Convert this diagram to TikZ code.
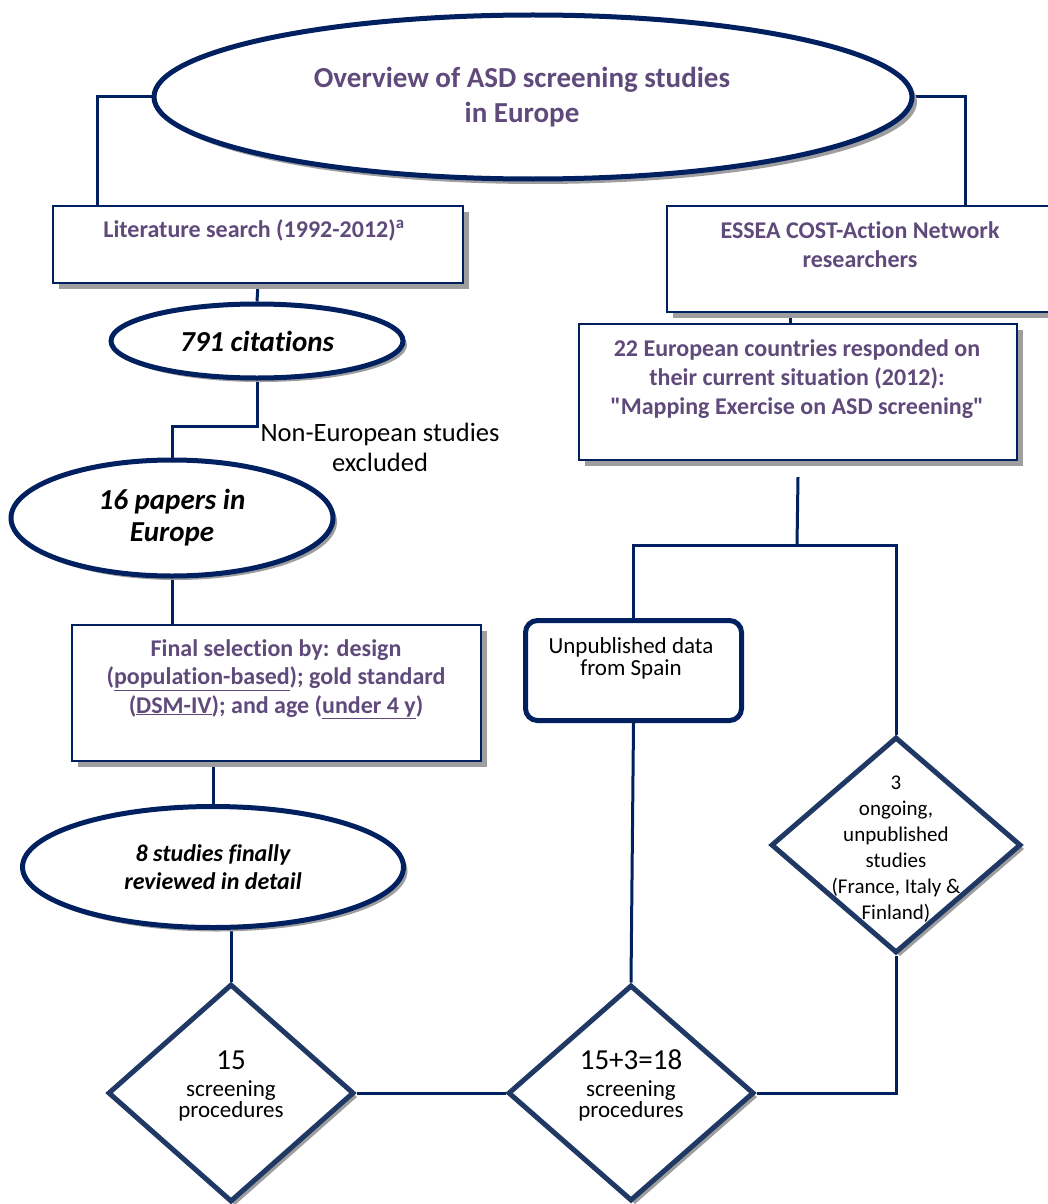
\documentclass[tikz,border=0pt]{standalone}
\usepackage{fontspec}
\setmainfont[Ligatures={TeXOff,NoCommon}]{Carlito}
\usetikzlibrary{shapes.geometric,shadows,backgrounds}
\definecolor{navy}{RGB}{0,32,96}
\definecolor{dnavy}{RGB}{31,56,100}
\definecolor{purp}{RGB}{96,74,123}
\definecolor{shad}{RGB}{158,158,158}
\begin{document}
\begin{tikzpicture}[x=1pt,y=-1pt,
  conn/.style={draw=navy,line width=3pt},
  bx/.style={rectangle,draw=navy,line width=2pt,fill=white,inner sep=0pt,anchor=north west,
    drop shadow={shadow xshift=6pt,shadow yshift=-6pt,fill=shad,opacity=1}},
  ell/.style={ellipse,draw=navy,line width=5pt,fill=white,inner sep=0pt,align=center,
    drop shadow={shadow xshift=4pt,shadow yshift=-4pt,fill=shad,opacity=1}},
  dia/.style={diamond,draw=dnavy,line width=5pt,fill=white,inner sep=0pt,
    drop shadow={shadow xshift=4pt,shadow yshift=-4pt,fill=shad,opacity=1}},
  ptxt/.style={text=purp,align=center,inner sep=0pt},
  btxt/.style={text=black,align=center,inner sep=0pt}]
\useasboundingbox (0,0) rectangle (1048,1204);

% ellipses
\node[ell,minimum width=758,minimum height=164,
  drop shadow={shadow xshift=5pt,shadow yshift=-5pt,fill=shad,opacity=1}] (top) at (533,97) {};
\node[ptxt,font=\fontsize{29}{35}\selectfont\bfseries] (topT) at (522,97)
  {Overview of ASD screening studies\\in Europe};
\node[ell,minimum width=292,minimum height=74,
  font=\fontsize{29}{32}\selectfont\bfseries\itshape] (c791) at (257,341) {791 citations};
\node[ell,minimum width=322,minimum height=116,
  font=\fontsize{29}{32}\selectfont\bfseries\itshape] (p16) at (172,518) {16 papers in\\Europe};
\node[ell,minimum width=381,minimum height=121,
  font=\fontsize{24}{28}\selectfont\bfseries\itshape] (s8) at (213,867) {8 studies finally\\reviewed in detail};

% boxes
\node[bx,minimum width=410,minimum height=77] (lit) at (52,205) {};
\node[ptxt,font=\fontsize{24}{29}\selectfont\bfseries] (litT) at (254,230)
  {Literature search (1992-2012)\textsuperscript{a}};
\node[bx,minimum width=400,minimum height=106] (essea) at (666,205) {};
\node[ptxt,font=\fontsize{24}{29}\selectfont\bfseries] (esseaT) at (860,245)
  {ESSEA COST-Action Network\\researchers};
\node[bx,minimum width=438,minimum height=136] (c22) at (578,323) {};
\node[ptxt,font=\fontsize{24}{29}\selectfont\bfseries] (c22T) at (797,379)
  {22 European countries responded on\\their current situation (2012):\\"Mapping Exercise on ASD screening"};
\node[bx,minimum width=409,minimum height=136] (fin) at (71,624) {};
\node[ptxt,font=\fontsize{24}{28.5}\selectfont\bfseries] (finT) at (276,679)
  {Final selection by: design\\(\underline{population-based}); gold standard\\(\underline{DSM-IV}); and age (\underline{under 4 y})};
\node[rectangle,rounded corners=12pt,draw=navy,line width=5pt,fill=white,inner sep=0pt,
  anchor=north west,minimum width=216,minimum height=100] (spain) at (523,618) {};
\node[btxt,font=\fontsize{23}{22}\selectfont] (spainT) at (631,658) {Unpublished data\\from Spain};

% diamonds
\node[dia,minimum width=246,minimum height=218] (d1) at (231,1093) {};
\node[dia,minimum width=246,minimum height=216] (d2) at (631,1093) {};
\node[dia,minimum width=250,minimum height=216] (d3) at (896,845) {};
\node[btxt,font=\fontsize{29}{29}\selectfont] (d1N) at (231,1060) {15};
\node[btxt,font=\fontsize{23}{21}\selectfont] (d1T) at (231,1101) {screening\\procedures};
\node[btxt,font=\fontsize{29}{29}\selectfont] (d2N) at (631,1060) {15+3=18};
\node[btxt,font=\fontsize{23}{21}\selectfont] (d2T) at (631,1101) {screening\\procedures};
\node[btxt,font=\fontsize{21}{26}\selectfont] (d3T) at (896,849)
  {3\\ongoing,\\unpublished\\studies\\(France, Italy \&\\Finland)};

% label
\node[btxt,font=\fontsize{26.5}{30}\selectfont] (nonEu) at (380,447) {Non-European studies\\excluded};

\coordinate (j) at (797,545);

\begin{scope}[on background layer]
\draw[conn] (top.west) -| ([xshift=45pt]lit.north west);
\draw[conn] (top.east) -| ([xshift=299pt]essea.north west);
\draw[conn] (lit.south) -- (c791.north);
\draw[conn] (c791.south) -- ++(0,46) -| (p16.north);
\draw[conn] (p16.south) -- (p16.south |- fin.north);
\draw[conn] (s8.north) -- (s8.north |- fin.south);
\draw[conn] (d1.north) -- (d1.north |- s8.south);
\draw[conn] (d1.east) -- (d2.west);
\draw[conn] (d2.east) -| (d3.south);
\draw[conn] (spain.south) -- (d2.north);
\draw[conn] ([xshift=-8pt]c22.north) -- ([xshift=-8pt]c22.north |- essea.south);
\draw[conn] ([yshift=-16pt]c22.south) -- (j);
\draw[conn] (spain.north) |- (j) -| (d3.north);
\end{scope}
\end{tikzpicture}
\end{document}
